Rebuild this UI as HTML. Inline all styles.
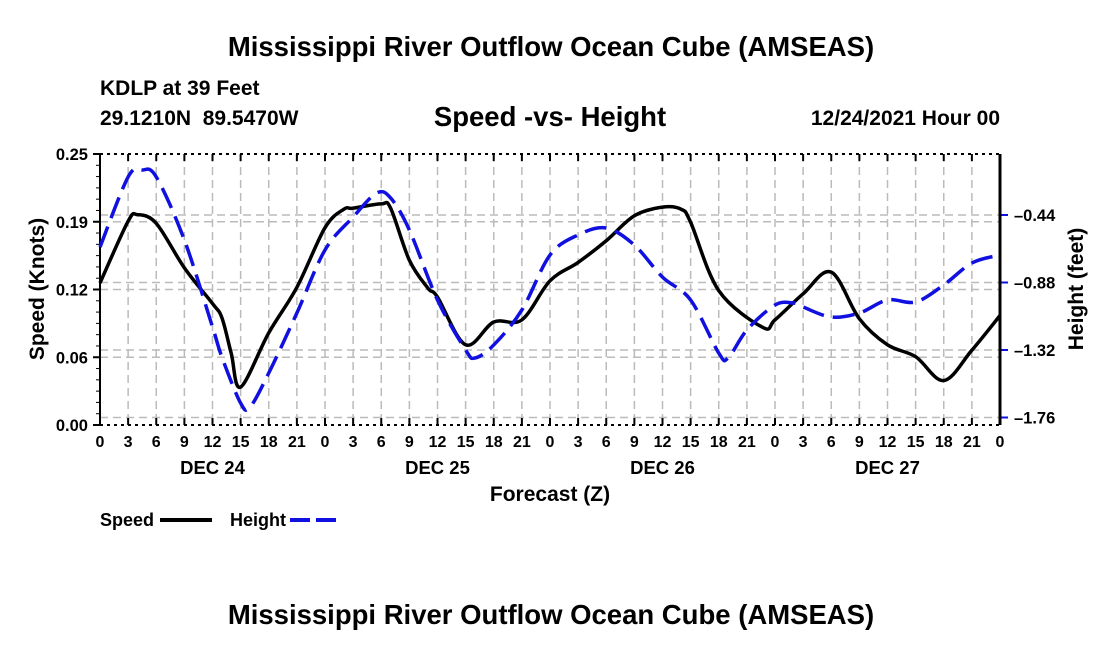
<!DOCTYPE html>
<html><head><meta charset="utf-8"><style>
body{margin:0;background:#fff;}
svg text{font-family:"Liberation Sans",sans-serif;font-weight:bold;fill:#000;}
</style></head><body>
<svg id="chart" width="1100" height="650" viewBox="0 0 1100 650">
<text x="551" y="56" font-size="27.5" text-anchor="middle">Mississippi River Outflow Ocean Cube (AMSEAS)</text>
<text x="100" y="95" font-size="21">KDLP at 39 Feet</text>
<text x="100" y="125" font-size="21" xml:space="preserve">29.1210N  89.5470W</text>
<text x="550" y="126" font-size="27.5" text-anchor="middle">Speed -vs- Height</text>
<text x="1000" y="125" font-size="21" text-anchor="end">12/24/2021 Hour 00</text>
<g id="grid"></g>
<g id="axes"></g>
<g id="series"></g>
<text transform="translate(44,289) rotate(-90)" font-size="21" text-anchor="middle">Speed (Knots)</text>
<text transform="translate(1083,289) rotate(-90)" font-size="21" text-anchor="middle">Height (feet)</text>
<text x="550" y="501" font-size="21" text-anchor="middle">Forecast (Z)</text>
<g><text x="100" y="526" font-size="18">Speed</text><line x1="160" y1="520" x2="212" y2="520" stroke="#000" stroke-width="4"/></g>
<g><text x="230" y="526" font-size="18">Height</text><line x1="290" y1="520" x2="342" y2="520" stroke="#1010e0" stroke-width="4" stroke-dasharray="20,6"/></g>
<text x="551" y="624" font-size="27.5" text-anchor="middle">Mississippi River Outflow Ocean Cube (AMSEAS)</text>
</svg>
<script>
const speedHours=[0,3,4,6,9,12,13,14,15,18,21,24,26,27,30,31,33,35,36,39,42,45,48,51,54,57,60,62,63,66,70.7,72,75,78,81,84,87,90,93,96];
const speedValues=[.131,.188,.194,.186,.145,.112,.099,.066,.035,.085,.127,.182,.199,.200,.204,.200,.152,.126,.118,.074,.095,.097,.133,.150,.170,.193,.201,.199,.187,.124,.090,.097,.121,.141,.098,.074,.063,.041,.069,.101];
const heightHours=[0,3,4.5,6,9,12,13,15,16,18,21,24,27,29.5,31,33,36,39,40,42,45,48,51,54,57,60,63,66,67,69,72,74,75,78,81,84,87,90,93,96];
const heightValues=[-0.649,-0.192,-0.147,-0.192,-0.603,-1.170,-1.366,-1.666,-1.692,-1.470,-1.079,-0.668,-0.453,-0.297,-0.329,-0.538,-0.994,-1.320,-1.372,-1.287,-1.059,-0.701,-0.570,-0.525,-0.636,-0.845,-0.994,-1.340,-1.372,-1.190,-1.027,-1.014,-1.040,-1.105,-1.079,-0.994,-1.007,-0.896,-0.753,-0.701];
const speedTicks=[0,0.0625,0.125,0.1875,0.25];
const speedTickLabels=["0.00","0.06","0.12","0.19","0.25"];
const heightTicks=[-1.76,-1.32,-0.88,-0.44];
const heightTickLabels=["\u20131.76","\u20131.32","\u20130.88","\u20130.44"];
const hourLabels=["0","3","6","9","12","15","18","21"];
const dayLabels=["DEC 24","DEC 25","DEC 26","DEC 27"];
const L=100,R=1000,T=154,B=425,NS="http://www.w3.org/2000/svg";
const xs=h=>L+h*(R-L)/96;
const ys=v=>B-v*(B-T)/0.25;
const yh=v=>215+(-0.44-v)*67.5/0.44;
function mk(tag,attrs,parent){const e=document.createElementNS(NS,tag);for(const k in attrs)e.setAttribute(k,attrs[k]);parent.appendChild(e);return e;}
const grid=document.getElementById('grid'),axes=document.getElementById('axes'),series=document.getElementById('series');
for(let h=3;h<96;h+=3){const l=mk('line',{x1:xs(h),x2:xs(h),y1:T,y2:B,stroke:'#bbb','stroke-width':1.5,'stroke-dasharray':'8,5'},grid);

}
speedTicks.forEach((v,i)=>{if(i>0&&i<4){const l=mk('line',{x1:L,x2:R,y1:ys(v),y2:ys(v),stroke:'#bbb','stroke-width':1.5,'stroke-dasharray':'8,5'},grid);

}
mk('line',{x1:L-7,x2:L,y1:ys(v),y2:ys(v),stroke:'#000','stroke-width':2},axes);
const t=mk('text',{x:L-12,y:ys(v)+6,'font-size':16.5,'text-anchor':'end'},axes);t.textContent=speedTickLabels[i];

});
for(let k=1;k<25;k++){if(k%6)mk('line',{x1:L-4,x2:L,y1:ys(k*0.25/24),y2:ys(k*0.25/24),stroke:'#000','stroke-width':1},axes);}
heightTicks.forEach((v,i)=>{const l=mk('line',{x1:L,x2:R,y1:yh(v),y2:yh(v),stroke:'#bbb','stroke-width':1.5,'stroke-dasharray':'8,5'},grid);


mk('line',{x1:R,x2:R+8,y1:yh(v),y2:yh(v),stroke:'#1010e0','stroke-width':2},axes);
const t=mk('text',{x:R+14,y:yh(v)+6,'font-size':16.5},axes);t.textContent=heightTickLabels[i];

});
mk('line',{x1:L,x2:R,y1:T,y2:T,stroke:'#000','stroke-width':2,'stroke-dasharray':'3,4'},axes);
mk('line',{x1:L,x2:R,y1:B,y2:B,stroke:'#000','stroke-width':2,'stroke-dasharray':'3,4'},axes);
mk('line',{x1:L,x2:L,y1:T,y2:B,stroke:'#000','stroke-width':2},axes);
mk('line',{x1:R,x2:R,y1:T,y2:B,stroke:'#000','stroke-width':3},axes);
for(let h=0;h<=96;h+=3){mk('line',{x1:xs(h),x2:xs(h),y1:B,y2:B-7,stroke:'#000','stroke-width':2},axes);mk('line',{x1:xs(h),x2:xs(h),y1:T,y2:T+7,stroke:'#000','stroke-width':2},axes);
const t=mk('text',{x:xs(h),y:B+22,'font-size':16,'text-anchor':'middle'},axes);t.textContent=hourLabels[(h/3)%8];

}
dayLabels.forEach((d,i)=>{const t=mk('text',{x:xs(i*24+12),y:B+49,'font-size':18.5,'text-anchor':'middle'},axes);t.textContent=d;

});
function smooth(pts){let d=`M${pts[0][0]},${pts[0][1]}`;for(let i=0;i<pts.length-1;i++){const p0=pts[Math.max(i-1,0)],p1=pts[i],p2=pts[i+1],p3=pts[Math.min(i+2,pts.length-1)];
d+=` C${p1[0]+(p2[0]-p0[0])/6},${p1[1]+(p2[1]-p0[1])/6} ${p2[0]-(p3[0]-p1[0])/6},${p2[1]-(p3[1]-p1[1])/6} ${p2[0]},${p2[1]}`;}return d;}
const sp=mk('path',{d:smooth(speedHours.map((h,i)=>[xs(h),ys(speedValues[i])])),fill:'none',stroke:'#000','stroke-width':3.5},series);


const hp=mk('path',{d:smooth(heightHours.map((h,i)=>[xs(h),yh(heightValues[i])])),fill:'none',stroke:'#1010e0','stroke-width':3.5,'stroke-dasharray':'22,9'},series);


</script>
</body></html>
